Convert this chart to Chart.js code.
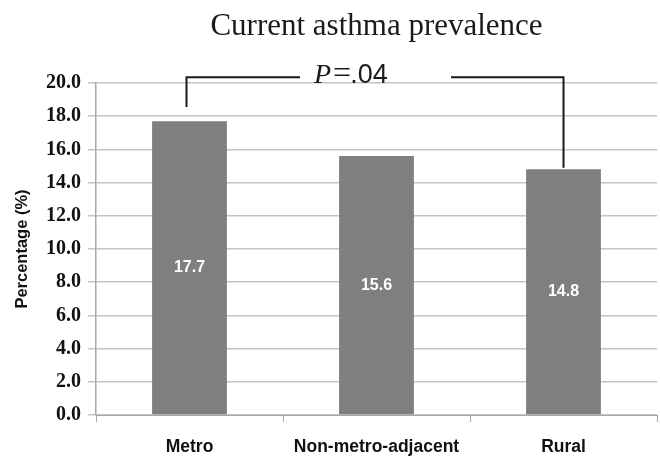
<!DOCTYPE html>
<html>
<head>
<meta charset="utf-8">
<script src="https://cdn.jsdelivr.net/npm/chart.js@4/dist/chart.umd.min.js"></script>
<style>
  html, body { margin: 0; padding: 0; background: #fff; }
  #wrap { width: 660px; height: 459px; }
</style>
</head>
<body>
<div id="wrap"><canvas id="asthmaChart" width="660" height="459"></canvas></div>
<script>
const categories = ['Metro', 'Non-metro-adjacent', 'Rural'];
const prevalence = [17.7, 15.6, 14.8];
const yTicks = [0, 2, 4, 6, 8, 10, 12, 14, 16, 18, 20];

// significance bracket between Metro and Rural
const bracketFrom = 0;
const bracketTo = 2;
const bracketTop = 20.35;
const bracketEnds = [18.55, 14.9];
const pLabel = ['P', '=', '.04'];

const barColor = '#7f7f7f';
const gridColor = '#c4c4c4';

const valueLabels = {
    id: 'valueLabels',
    afterDatasetsDraw(chart) {
        const ctx = chart.ctx;
        const meta = chart.getDatasetMeta(0);
        ctx.save();
        ctx.fillStyle = '#ffffff';
        ctx.font = 'bold 16px "Liberation Sans", Arial, sans-serif';
        ctx.textAlign = 'center';
        ctx.textBaseline = 'middle';
        meta.data.forEach((bar, i) => {
            const mid = (bar.y + bar.base) / 2;
            ctx.fillText(prevalence[i].toFixed(1), bar.x, mid);
        });
        ctx.restore();
    }
};

const bracket = {
    id: 'bracket',
    afterDraw(chart) {
        const ctx = chart.ctx;
        const x = chart.scales.x;
        const y = chart.scales.y;
        const x1 = x.getPixelForValue(bracketFrom) - 3;
        const x2 = x.getPixelForValue(bracketTo);
        const yt = y.getPixelForValue(bracketTop);
        const y1 = y.getPixelForValue(bracketEnds[0]);
        const y2 = y.getPixelForValue(bracketEnds[1]);
        const mid = (x1 + x2) / 2;
        const gapL = mid - 75;
        const gapR = mid + 76;

        ctx.save();
        ctx.strokeStyle = '#1a1a1a';
        ctx.lineWidth = 2;
        ctx.beginPath();
        ctx.moveTo(x1, y1);
        ctx.lineTo(x1, yt);
        ctx.lineTo(gapL, yt);
        ctx.moveTo(gapR, yt);
        ctx.lineTo(x2, yt);
        ctx.lineTo(x2, y2);
        ctx.stroke();

        // P=.04 label
        let tx = gapL + 14;
        const base = yt + 6;
        ctx.fillStyle = '#1a1a1a';
        ctx.textBaseline = 'alphabetic';
        ctx.textAlign = 'left';
        ctx.font = 'italic 28px "Liberation Serif", "Times New Roman", serif';
        ctx.fillText(pLabel[0], tx, base);
        tx += ctx.measureText(pLabel[0]).width + 2;
        ctx.font = '32px "Liberation Serif", "Times New Roman", serif';
        ctx.fillText(pLabel[1], tx, base);
        tx += ctx.measureText(pLabel[1]).width - 1;
        ctx.font = '27px "Liberation Sans", Arial, sans-serif';
        ctx.fillText(pLabel[2], tx, base);
        ctx.restore();
    }
};

new Chart(document.getElementById('asthmaChart').getContext('2d'), {
    type: 'bar',
    data: {
        labels: categories,
        datasets: [{
            data: prevalence,
            backgroundColor: barColor,
            borderWidth: 0,
            barPercentage: 0.4,
            categoryPercentage: 1.0
        }]
    },
    options: {
        responsive: false,
        animation: false,
        layout: { padding: { right: 3, left: 0, bottom: 0 } },
        plugins: {
            legend: { display: false },
            tooltip: { enabled: false },
            title: {
                display: true,
                fullSize: false,
                text: 'Current asthma prevalence',
                color: '#1a1a1a',
                font: { family: '"Liberation Serif", "Times New Roman", serif', size: 31, weight: 'normal' },
                padding: { top: 8, bottom: 37.8 }
            }
        },
        scales: {
            x: {
                afterFit(scale) { scale.height = 44; },
                grid: {
                    offset: true,
                    drawOnChartArea: false,
                    color: '#a8a8a8',
                    tickLength: 7
                },
                border: { color: '#a8a8a8' },
                ticks: {
                    color: '#111',
                    padding: 15,
                    font: { family: '"Liberation Sans", Arial, sans-serif', size: 17.5, weight: 'bold' }
                }
            },
            y: {
                min: 0,
                max: 20,
                afterFit(scale) { scale.width = 96; },
                afterBuildTicks(scale) { scale.ticks = yTicks.map(v => ({ value: v })); },
                grid: {
                    color: gridColor,
                    lineWidth: 1.5,
                    tickLength: 8
                },
                border: { color: '#a8a8a8', width: 1.5 },
                ticks: {
                    color: '#111',
                    padding: 7,
                    font: { family: '"Liberation Serif", "Times New Roman", serif', size: 20, weight: 'bold' },
                    callback: v => Number(v).toFixed(1)
                },
                title: {
                    display: true,
                    text: 'Percentage (%)',
                    color: '#111',
                    padding: { top: 13, bottom: 0 },
                    font: { family: '"Liberation Sans", Arial, sans-serif', size: 16.5, weight: 'bold' }
                }
            }
        }
    },
    plugins: [valueLabels, bracket]
});
</script>
</body>
</html>
